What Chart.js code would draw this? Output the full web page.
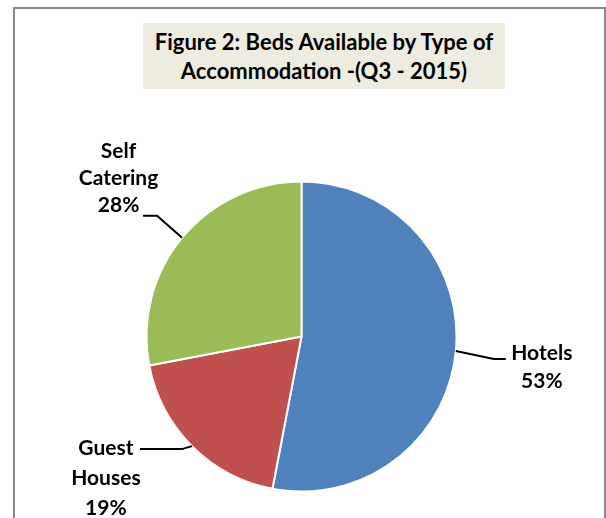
<!DOCTYPE html>
<html>
<head>
<meta charset="utf-8">
<script src="https://cdn.jsdelivr.net/npm/chart.js@4.4.1/dist/chart.umd.min.js"></script>
<style>
  html, body { margin: 0; padding: 0; background: #fff; overflow: hidden; }
  #wrap { position: relative; width: 606px; height: 518px; }
  #frame {
    position: absolute; left: 13px; top: 7px;
    width: 589px; height: 600px;
    border: 2px solid #888888;
  }
  #title {
    position: absolute; left: 143px; top: 23px;
    width: 362px; height: 62px; padding-top: 4px;
    background: #eeece1;
    font: bold 22px Lato, sans-serif; line-height: 29px;
    text-align: center; color: #000;
  }
  #pie { position: absolute; left: 0; top: 0; }
</style>
</head>
<body>
<div id="wrap">
  <div id="frame"></div>
  <div id="title">Figure 2: Beds Available by Type of<br>Accommodation -(Q3 - 2015)</div>
  <canvas id="pie" width="606" height="518"></canvas>
</div>
<script>
const categories = ['Hotels', 'Guest Houses', 'Self Catering'];
const shares = [53, 19, 28];
const sliceColors = ['#4f81bd', '#c0504d', '#9bbb59'];

// leader line + label placement, relative to the point on the rim at each slice's mid angle
const labelLayout = [
  { elbow: [38, 8], end: [50, 8], textX: 86, baseline: 9, lineGap: 28 },
  { elbow: [-10, 3], end: [-52, 3], textX: -86, baseline: 9, lineGap: 30 },
  { elbow: [-25, -22], end: [-39, -22], textX: -63.5, baseline: -80, lineGap: 27 },
];

const calloutPlugin = {
  id: 'callouts',
  afterDatasetsDraw(chart) {
    const ctx = chart.ctx;
    const meta = chart.getDatasetMeta(0);
    const total = shares.reduce((a, b) => a + b, 0);
    meta.data.forEach((arc, i) => {
      const p = arc.getProps(['x', 'y', 'startAngle', 'endAngle', 'outerRadius'], true);
      const mid = (p.startAngle + p.endAngle) / 2;
      const ex = p.x + Math.cos(mid) * p.outerRadius;
      const ey = p.y + Math.sin(mid) * p.outerRadius;
      const lay = labelLayout[i];

      ctx.save();
      ctx.strokeStyle = '#000';
      ctx.lineWidth = 2;
      ctx.beginPath();
      ctx.moveTo(ex, ey);
      ctx.lineTo(ex + lay.elbow[0], ey + lay.elbow[1]);
      ctx.lineTo(ex + lay.end[0], ey + lay.end[1]);
      ctx.stroke();

      const lines = categories[i].split(' ');
      lines.push(Math.round(shares[i] / total * 100) + '%');
      ctx.fillStyle = '#000';
      ctx.font = 'bold 21px Lato, sans-serif';
      ctx.textAlign = 'center';
      ctx.textBaseline = 'alphabetic';
      lines.forEach((txt, k) => {
        ctx.fillText(txt, ex + lay.textX, ey + lay.baseline + k * lay.lineGap);
      });
      ctx.restore();
    });
  },
};

new Chart(document.getElementById('pie'), {
  type: 'pie',
  data: {
    labels: categories,
    datasets: [{
      data: shares,
      backgroundColor: sliceColors,
      borderColor: '#ffffff',
      borderWidth: 2,
    }],
  },
  options: {
    responsive: false,
    animation: false,
    layout: { padding: { left: 145.5, right: 148.5, top: 180.5, bottom: 25.5 } },
    plugins: {
      legend: { display: false },
      tooltip: { enabled: false },
      title: { display: false },
    },
  },
  plugins: [calloutPlugin],
});
</script>
</body>
</html>
